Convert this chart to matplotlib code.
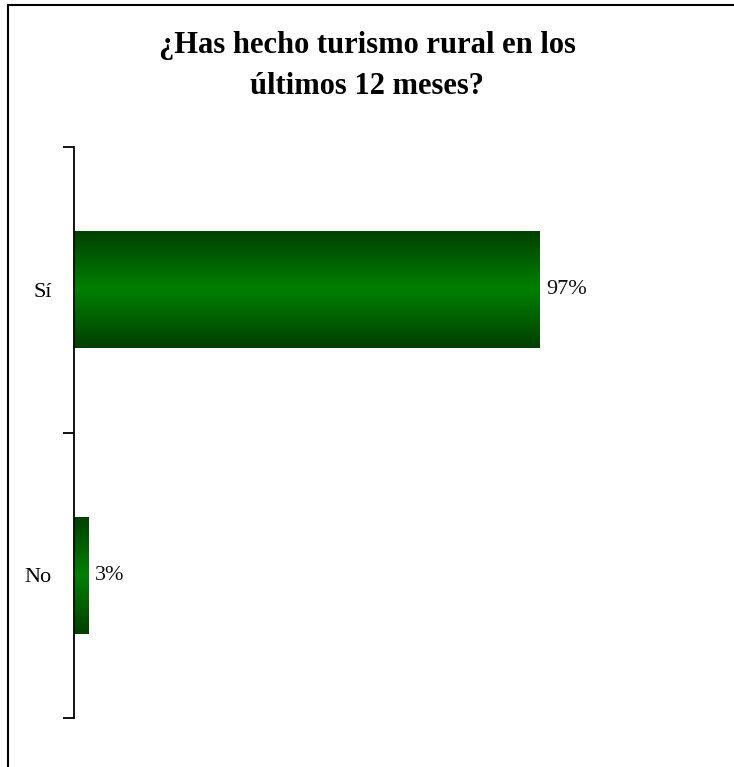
import matplotlib
matplotlib.use("Agg")
import matplotlib.pyplot as plt
import numpy as np
from matplotlib.colors import LinearSegmentedColormap
from matplotlib.patches import Rectangle

categories = ["Sí", "No"]
values = [0.97, 0.03]
value_labels = ["97%", "3%"]
title = "¿Has hecho turismo rural en los\núltimos 12 meses?"

W, H = 734, 767
fig = plt.figure(figsize=(W / 100, H / 100), dpi=100)
ax = fig.add_axes([74 / W, 1 - 718 / H, 480 / W, (718 - 147) / H])

serif = ["Liberation Serif", "DejaVu Serif"]
green = LinearSegmentedColormap.from_list(
    "bar", ["#003f00", "#008000", "#003f00"])
grad = np.linspace(0, 1, 256).reshape(-1, 1)

ypos = np.arange(len(categories))
bars = ax.barh(ypos, values, height=0.41, color="none", edgecolor="none")
for bar, lab in zip(bars, value_labels):
    x0, y0 = bar.get_x(), bar.get_y()
    w, h = bar.get_width(), bar.get_height()
    im = ax.imshow(grad, cmap=green, aspect="auto",
                   extent=[x0, x0 + w, y0, y0 + h], zorder=2)
    im.set_clip_path(bar)
    ax.text(x0 + w + 0.013, y0 + h / 2, lab, va="center", ha="left",
            fontsize=16, family=serif, color="#111111")

ax.set_xlim(0, 1)
ax.set_ylim(1.5, -0.5)
ax.set_yticks([-0.5, 0.5, 1.5])
ax.set_yticklabels([])
ax.set_yticks(ypos, minor=True)
ax.set_yticklabels(categories, minor=True, fontsize=16, family=serif)
ax.tick_params(axis="y", which="major", direction="out", length=8, width=1.3)
ax.tick_params(axis="y", which="minor", length=0, pad=16)
ax.set_xticks([])
for side in ["top", "right", "bottom"]:
    ax.spines[side].set_visible(False)
ax.spines["left"].set_linewidth(1.3)

fig.text(0.5, 1 - 66 / H, title, ha="center", va="center", fontsize=22,
         fontweight="bold", family=serif, linespacing=1.55)

fig.add_artist(Rectangle((8 / W, -0.1), 1.2, 1.1 - 5 / H, transform=fig.transFigure,
                         fill=False, edgecolor="black", linewidth=1.5))

fig.savefig("out.png", dpi=100)
